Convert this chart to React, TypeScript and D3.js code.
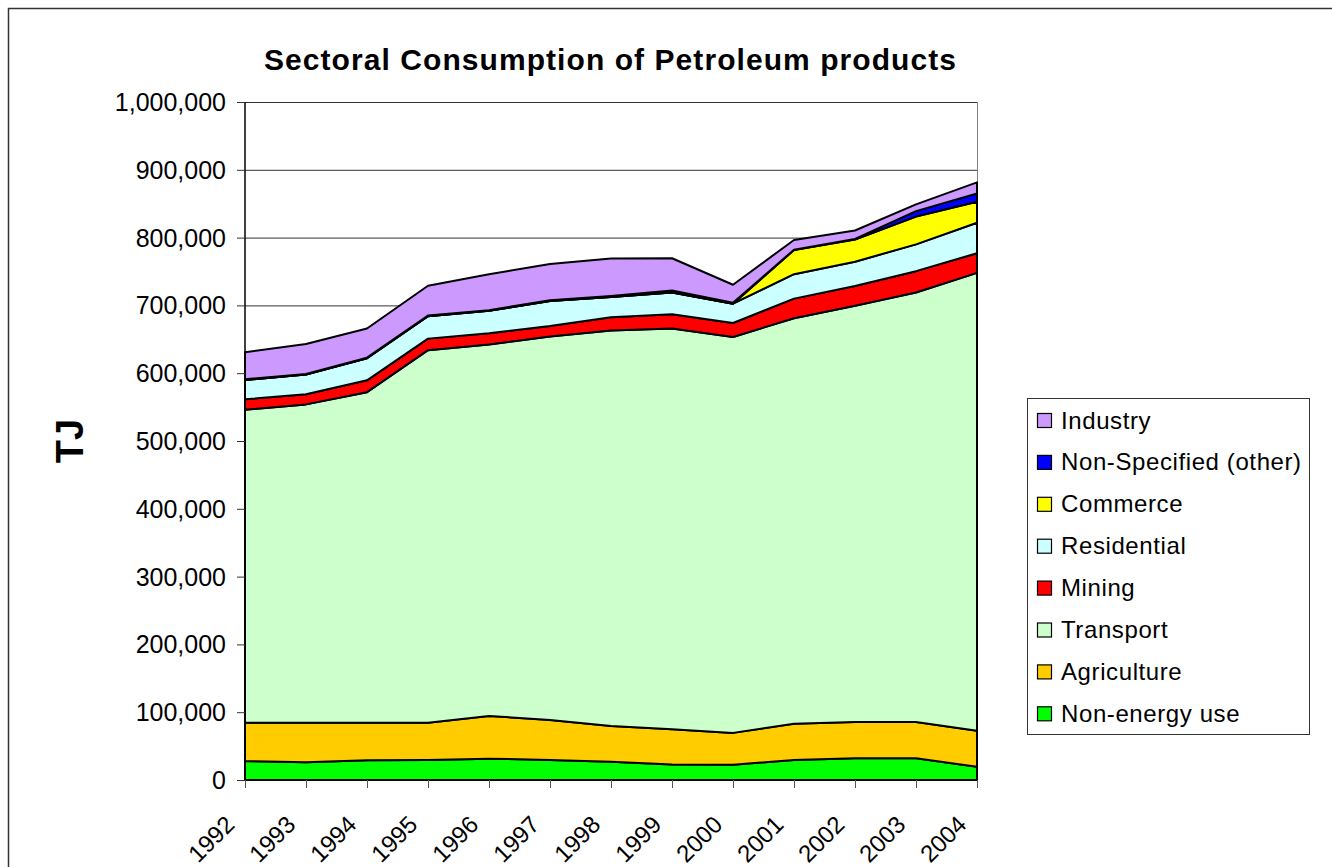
import React from 'react';
import * as d3 from 'd3';

// years on the x axis
const years = [1992, 1993, 1994, 1995, 1996, 1997, 1998, 1999, 2000, 2001, 2002, 2003, 2004];

// series values in TJ (stacked bottom to top)
const nonEnergyUse = [28000, 26000, 29000, 29500, 31500, 29500, 27000, 23000, 22500, 29500, 32000, 32000, 19500];
const agriculture = [56500, 58500, 55500, 55000, 63000, 59000, 52500, 52000, 47000, 53500, 53500, 53500, 53000];
const transport = [461500, 469500, 487500, 549500, 548000, 565500, 583500, 591000, 584000, 598000, 614000, 633500, 675500];
const mining = [15500, 15000, 17500, 17000, 16500, 15500, 19500, 21000, 20500, 29000, 29000, 31500, 29000];
const residential = [28500, 29000, 32500, 33000, 33000, 37000, 30000, 32000, 28500, 36000, 36000, 39500, 45000];
const commerce = [0, 0, 0, 0, 0, 0, 0, 0, 0, 35700, 32500, 41000, 31000];
const nonSpecified = [1000, 1000, 1000, 1000, 1000, 1000, 1500, 3000, 1500, 500, 1000, 8000, 12000];
const industry = [40000, 44000, 43000, 44000, 53000, 53500, 55000, 47500, 26500, 14300, 12500, 10000, 16500];

const yTicks = [0, 100000, 200000, 300000, 400000, 500000, 600000, 700000, 800000, 900000, 1000000];

const series = [
  { name: 'Non-energy use', values: nonEnergyUse, color: '#00ff00' },
  { name: 'Agriculture', values: agriculture, color: '#ffcc00' },
  { name: 'Transport', values: transport, color: '#ccffcc' },
  { name: 'Mining', values: mining, color: '#ff0000' },
  { name: 'Residential', values: residential, color: '#ccffff' },
  { name: 'Commerce', values: commerce, color: '#ffff00' },
  { name: 'Non-Specified (other)', values: nonSpecified, color: '#0000ff' },
  { name: 'Industry', values: industry, color: '#cc99ff' },
];

const FONT = 'Arial, "Liberation Sans", sans-serif';

const App = () => {
  const plot = { left: 245, right: 977, top: 102, bottom: 780 };

  const x = d3.scalePoint<number>().domain(years).range([plot.left, plot.right]);
  const y = d3.scaleLinear().domain([0, 1000000]).range([plot.bottom, plot.top]);

  // table for the stack
  const rows = years.map((yr, i) => {
    const r: any = { year: yr };
    series.forEach(s => { r[s.name] = s.values[i]; });
    return r;
  });
  const stacked = d3.stack<any>().keys(series.map(s => s.name))(rows);

  const area = d3.area<any>()
    .x(d => x(d.data.year) as number)
    .y0(d => y(d[0]))
    .y1(d => y(d[1]));

  const fmt = d3.format(',');

  // legend, top entry is the top of the stack
  const legendItems = [...series].reverse();
  const legend = { x: 1027, y: 398, w: 282, h: 336, step: 41.9 };

  return (
    <svg width={1332} height={867} style={{ position: 'absolute', left: 0, top: 0 }} fontFamily={FONT}>
      <rect x={0} y={0} width={1332} height={867} fill="#fff" />
      {/* chart border */}
      <rect x={8.5} y={8.5} width={1340} height={900} fill="none" stroke="#333" strokeWidth={1.5} />

      <text x={610} y={70} textAnchor="middle" fontSize={30} fontWeight="bold" textLength={692} lengthAdjust="spacing">
        Sectoral Consumption of Petroleum products
      </text>

      {/* gridlines */}
      {yTicks.map(t => (
        <line key={t} x1={plot.left} x2={plot.right} y1={y(t) + 0.5} y2={y(t) + 0.5} stroke="#333" strokeWidth={1} />
      ))}
      <line x1={plot.right + 0.5} x2={plot.right + 0.5} y1={plot.top} y2={plot.bottom} stroke="#808080" strokeWidth={1} />

      {/* stacked areas */}
      {stacked.map((layer, i) => (
        <path key={layer.key} d={area(layer) || ''} fill={series[i].color} stroke="#000" strokeWidth={2} strokeLinejoin="round" />
      ))}

      {/* axes */}
      <line x1={plot.left} x2={plot.left} y1={plot.top} y2={plot.bottom} stroke="#000" strokeWidth={1.5} />
      <line x1={plot.left} x2={plot.right} y1={plot.bottom} y2={plot.bottom} stroke="#000" strokeWidth={1.5} />
      {yTicks.map(t => (
        <g key={'yt' + t}>
          <line x1={plot.left - 8} x2={plot.left} y1={y(t) + 0.5} y2={y(t) + 0.5} stroke="#333" strokeWidth={1} />
          <text x={226} y={y(t) + 9} textAnchor="end" fontSize={25}>{fmt(t)}</text>
        </g>
      ))}
      {years.map(yr => (
        <g key={'xt' + yr}>
          <line x1={(x(yr) as number) + 0.5} x2={(x(yr) as number) + 0.5} y1={plot.bottom} y2={plot.bottom + 8} stroke="#555" strokeWidth={1} />
          <text
            transform={`translate(${(x(yr) as number) - 9},${plot.bottom + 46}) rotate(-45)`}
            textAnchor="end"
            fontSize={24}
          >
            {yr}
          </text>
        </g>
      ))}

      <text transform="translate(83,441) rotate(-90)" textAnchor="middle" fontSize={38} fontWeight="bold">TJ</text>

      {/* legend */}
      <rect x={legend.x + 0.5} y={legend.y + 0.5} width={legend.w} height={legend.h} fill="#fff" stroke="#333" strokeWidth={1} />
      {legendItems.map((s, i) => {
        const cy = legend.y + 22 + i * legend.step;
        return (
          <g key={s.name}>
            <rect x={1037.5} y={cy - 6.5} width={14} height={14} fill={s.color} stroke="#000" strokeWidth={1.2} />
            <text x={1061} y={cy + 8.5} fontSize={24} letterSpacing={0.6}>{s.name}</text>
          </g>
        );
      })}
    </svg>
  );
};

export default App;
